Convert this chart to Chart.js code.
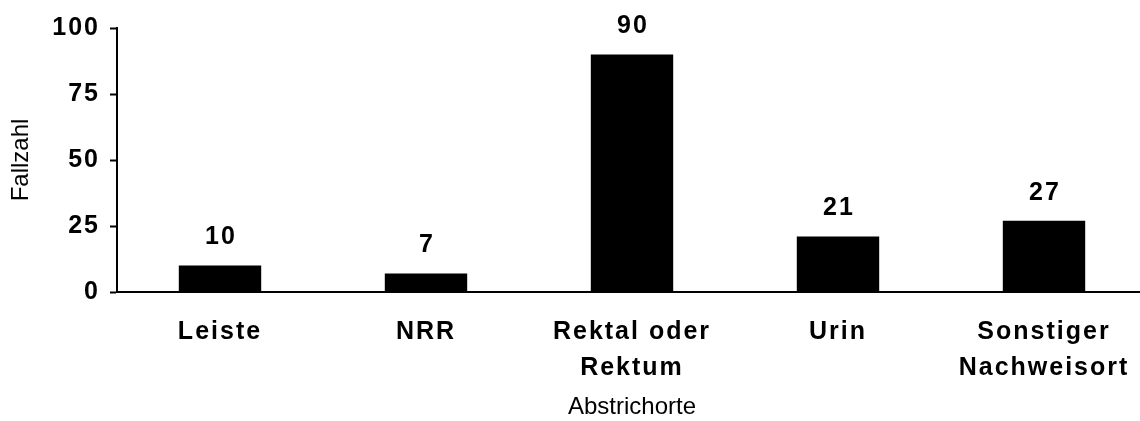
<!DOCTYPE html>
<html>
<head>
<meta charset="utf-8">
<script src="https://cdn.jsdelivr.net/npm/chart.js@4"></script>
<style>
  html, body { margin: 0; padding: 0; background: #fff; overflow: hidden; }
  /* the original plot runs a few pixels past the right edge of the picture */
  #wrap { width: 1147px; height: 421px; position: relative; }
</style>
</head>
<body>
<div id="wrap"><canvas id="chart"></canvas></div>
<script>
const categories = [['Leiste'], ['NRR'], ['Rektal oder', 'Rektum'], ['Urin'], ['Sonstiger', 'Nachweisort']];
const fallzahl = [10, 7, 90, 21, 27];
const yTicks = [0, 25, 50, 75, 100];

const FONT = '"Liberation Sans", Arial, sans-serif';

// draws the number above each bar
const valueLabels = {
  id: 'valueLabels',
  afterDatasetsDraw(chart) {
    const ctx = chart.ctx;
    const meta = chart.getDatasetMeta(0);
    ctx.save();
    ctx.font = 'bold 25px ' + FONT;
    ctx.letterSpacing = '2px';
    ctx.fillStyle = '#000';
    ctx.textAlign = 'center';
    ctx.textBaseline = 'middle';
    meta.data.forEach((bar, i) => {
      ctx.fillText(String(fallzahl[i]), bar.x + 1, bar.y - 28);
    });
    ctx.restore();
  }
};

// the tick labels in the original are letter-spaced
const spacedTicks = {
  id: 'spacedTicks',
  afterLayout(chart) {
    ['x', 'y'].forEach(id => {
      const scale = chart.scales[id];
      if (scale._spacedPatched) return;
      const orig = scale.drawLabels;
      scale.drawLabels = function (area) {
        const ctx = this.ctx;
        ctx.save();
        ctx.letterSpacing = '2px';
        orig.call(this, area);
        ctx.restore();
      };
      scale._spacedPatched = true;
    });
  }
};

new Chart(document.getElementById('chart'), {
  type: 'bar',
  data: {
    labels: categories,
    datasets: [{
      label: 'Fallzahl',
      data: fallzahl,
      backgroundColor: '#000',
      borderWidth: 0,
      categoryPercentage: 1,
      barPercentage: 0.4
    }]
  },
  options: {
    responsive: true,
    maintainAspectRatio: false,
    animation: false,
    layout: { padding: { top: 28, right: 0, left: 0, bottom: 0 } },
    plugins: {
      legend: { display: false },
      tooltip: { enabled: false }
    },
    scales: {
      x: {
        grid: { display: false, drawTicks: false },
        border: { color: '#000', width: 2 },
        ticks: {
          color: '#000',
          padding: 22,
          maxRotation: 0,
          font: { family: FONT, size: 25, weight: 'bold', lineHeight: 1.45 }
        },
        title: {
          display: true,
          text: 'Abstrichorte',
          color: '#000',
          font: { family: FONT, size: 24, lineHeight: 1.1 },
          padding: { top: 0, bottom: 0 }
        },
        afterFit(scale) { scale.height = 129; }
      },
      y: {
        min: 0,
        max: 100,
        afterBuildTicks(scale) { scale.ticks = yTicks.map(v => ({ value: v })); },
        grid: { drawOnChartArea: false, drawTicks: true, tickLength: 7, tickWidth: 2, tickColor: '#000' },
        border: { color: '#000', width: 2 },
        ticks: {
          color: '#000',
          padding: 10,
          font: { family: FONT, size: 25, weight: 'bold' }
        },
        title: {
          display: true,
          text: 'Fallzahl',
          color: '#000',
          font: { family: FONT, size: 24, lineHeight: 1.2 },
          padding: { top: 7, bottom: 0 }
        },
        afterFit(scale) { scale.width = 117; }
      }
    }
  },
  plugins: [spacedTicks, valueLabels]
});
</script>
</body>
</html>
